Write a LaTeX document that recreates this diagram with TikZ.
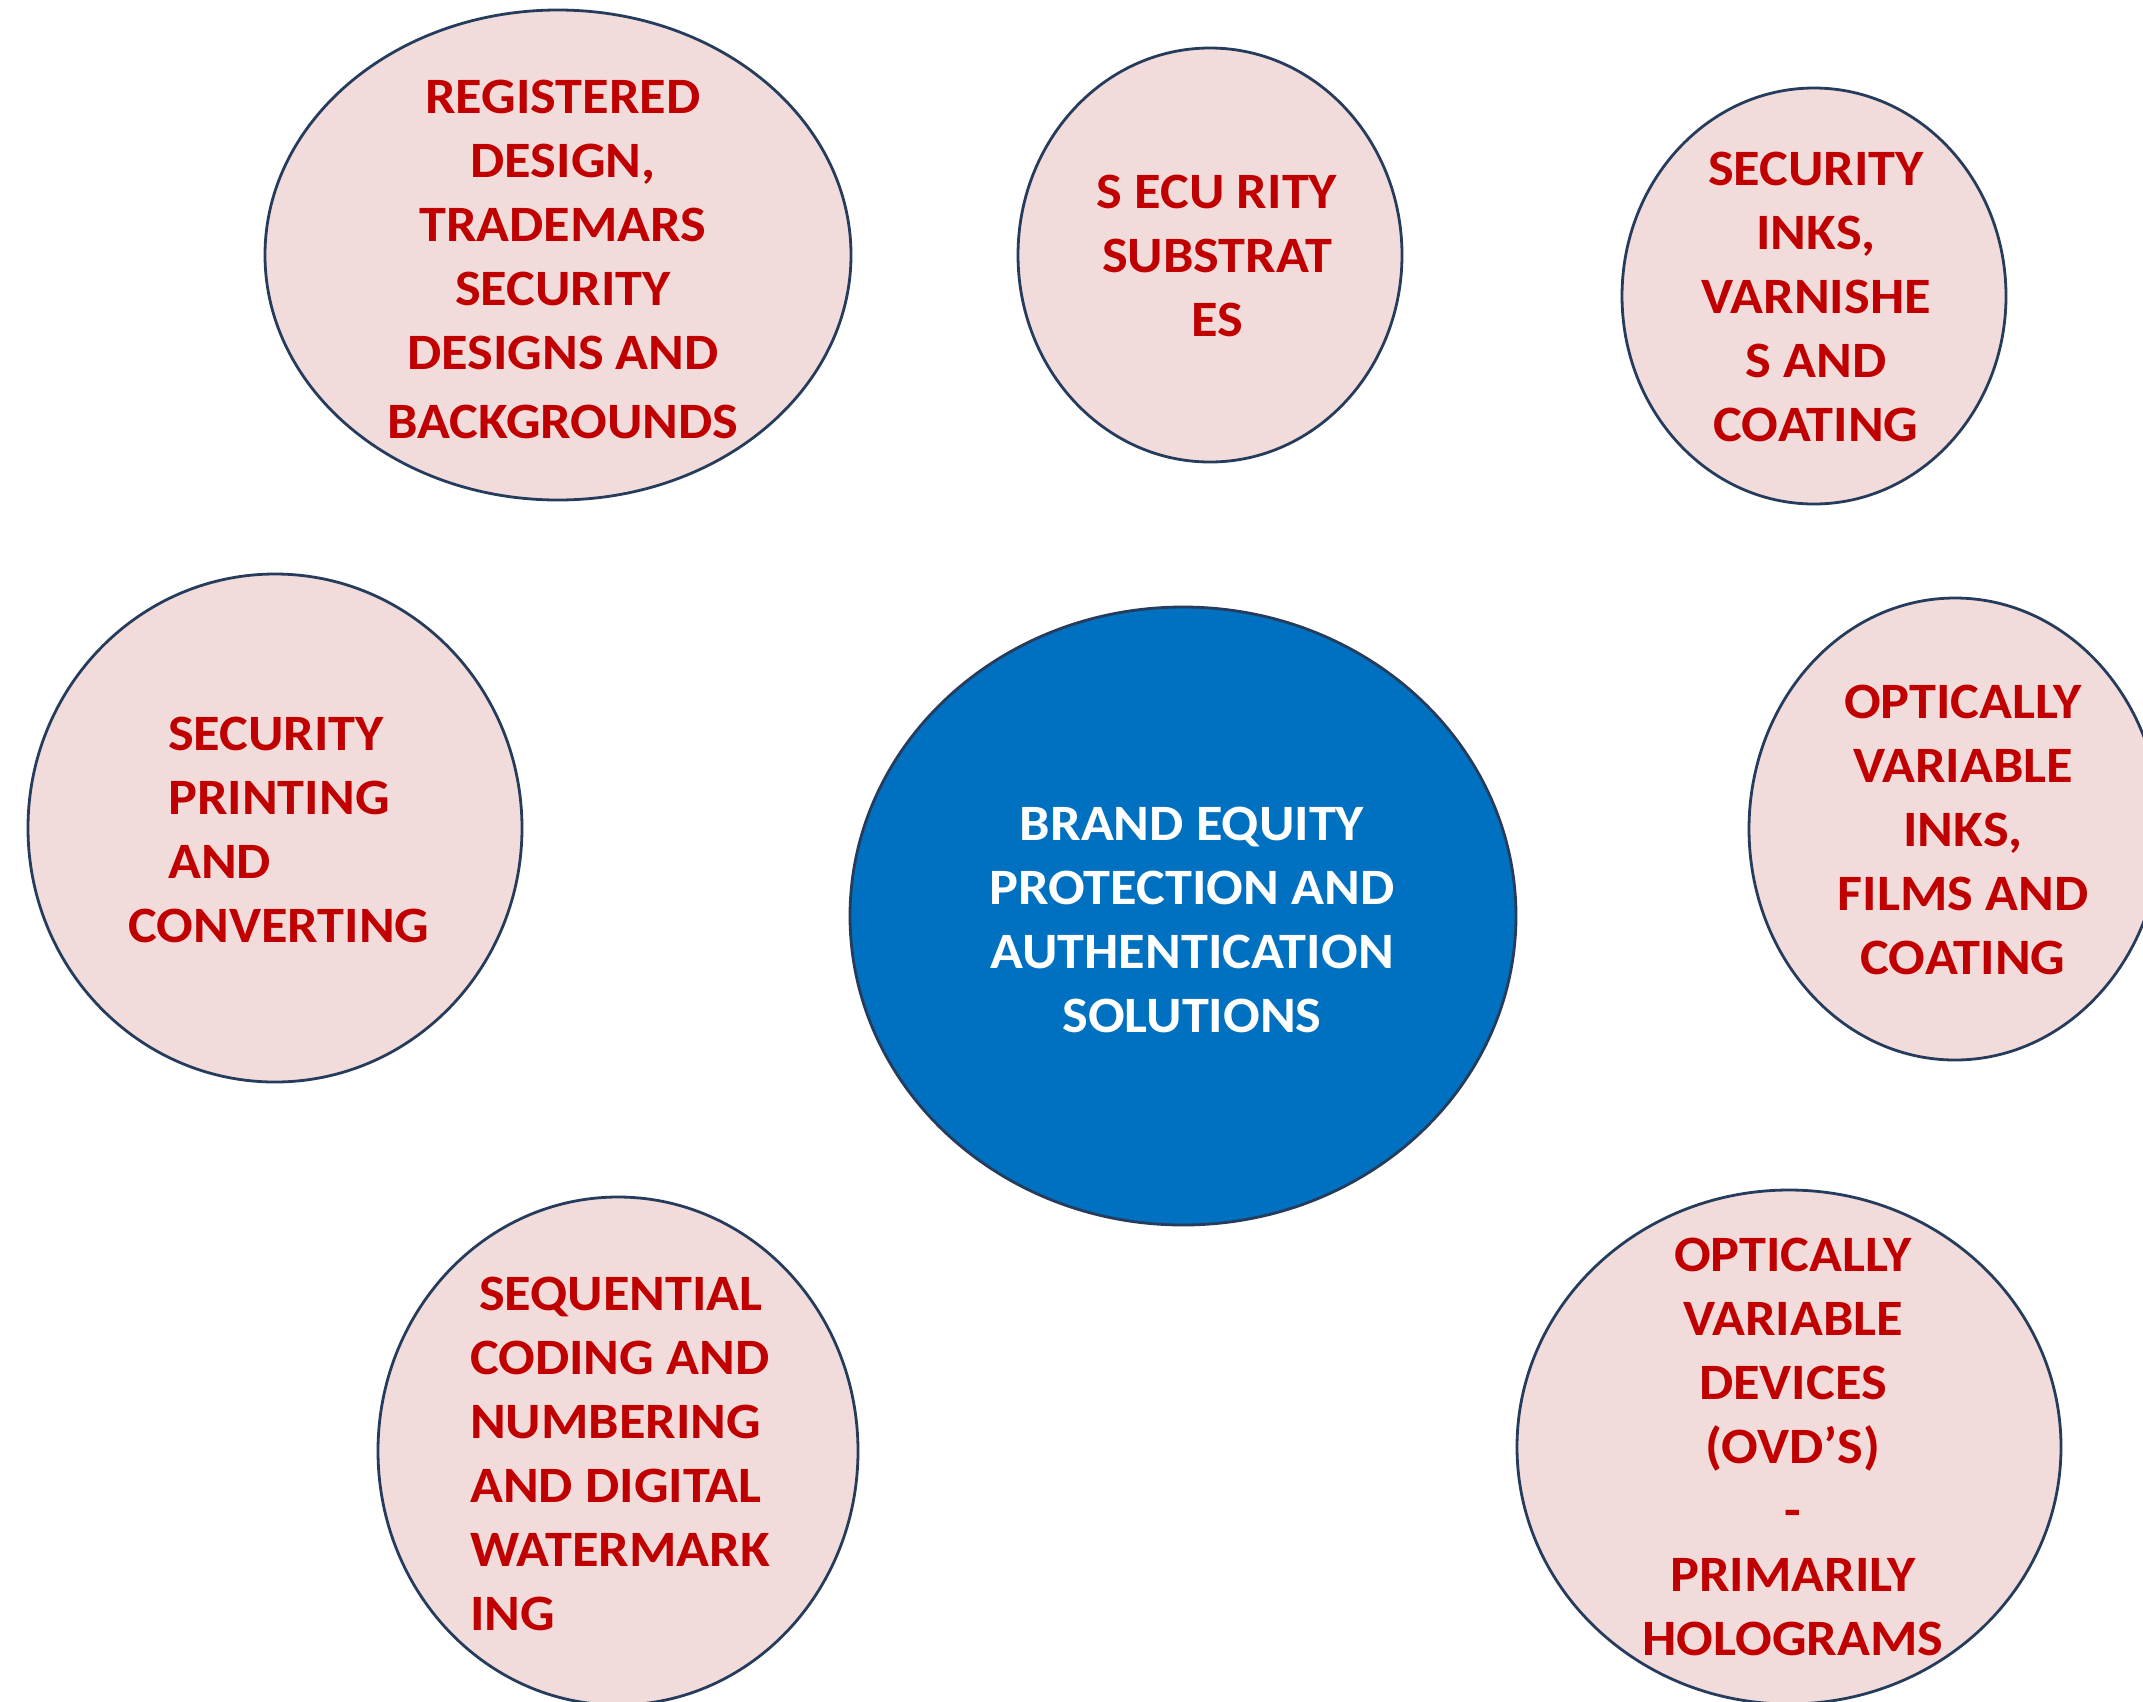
\documentclass[tikz,border=0pt]{standalone}
\usepackage{fontspec}
\setmainfont{Carlito}
\newfontfamily\lblfont{Carlito}[FakeStretch=1.065]
\usetikzlibrary{shapes.geometric}
\definecolor{pinkfill}{RGB}{242,220,219}
\definecolor{navyline}{RGB}{38,60,92}
\definecolor{redtext}{RGB}{192,0,0}
\definecolor{bluefill}{RGB}{0,112,192}
\begin{document}
\begin{tikzpicture}[x=1pt,y=-1pt,
  bubble/.style={ellipse, draw=navyline, line width=2.8pt, fill=pinkfill, inner sep=0pt, outer sep=0pt},
  hub/.style={ellipse, draw=navyline, line width=2.8pt, fill=bluefill, inner sep=0pt, outer sep=0pt},
  lbl/.style={font=\lblfont\fontsize{51}{64}\selectfont\bfseries, inner sep=0pt},
  redlabel/.style={lbl, text=redtext, align=center},
  redleft/.style={lbl, text=redtext, align=left, anchor=west},
  whitelabel/.style={lbl, text=white, align=center}]
\useasboundingbox (0,0) rectangle (2143,1701);
\clip (0,0) rectangle (2143,1701);
\fill[white] (0,0) rectangle (2143,1701);
% bubbles
\node[bubble, minimum width=586pt, minimum height=490pt] (e1) at (558,255) {};
\node[bubble, minimum width=384pt, minimum height=414pt] (e2) at (1210,255) {};
\node[bubble, minimum width=384pt, minimum height=416pt] (e3) at (1814,296) {};
\node[bubble, minimum width=494pt, minimum height=508pt] (e4) at (275,828) {};
\node[hub,    minimum width=666pt, minimum height=618pt] (hub) at (1183,916) {};
\node[bubble, minimum width=412pt, minimum height=462pt] (e5) at (1955,829) {};
\node[bubble, minimum width=480pt, minimum height=508pt] (e6) at (618,1451) {};
\node[bubble, minimum width=544pt, minimum height=514pt] (e7) at (1789,1447) {};
% labels
\node[redlabel] (t1) at (563,259) {REGISTERED\\ DESIGN,\\ TRADEMARS\\ SECURITY\\ DESIGNS AND\\[5pt] BACKGROUNDS};
\node[redlabel] (t2) at (1217,256) {S ECU RITY\\ SUBSTRAT\\ ES};
\node[redlabel] (t3) at (1816,297) {SECURITY\\ INKS,\\ VARNISHE\\ S AND\\ COATING};
\node[redleft] (t4) at (128,829.5) {\hspace*{40pt}SECURITY\\ \hspace*{40pt}PRINTING\\ \hspace*{40pt}AND\\ CONVERTING};
\node[whitelabel] (thub) at (1192,920) {BRAND EQUITY\\ PROTECTION AND\\ AUTHENTICATION\\ SOLUTIONS};
\node[redlabel] (t5) at (1963,830) {OPTICALLY\\ VARIABLE\\ INKS,\\ FILMS AND\\ COATING};
\node[redleft] (t6) at (470,1454) {\hspace*{9pt}SEQUENTIAL\\ CODING AND\\ NUMBERING\\ AND DIGITAL\\ WATERMARK\\ ING};
\node[redlabel] (t7) at (1793,1447) {OPTICALLY\\ VARIABLE\\ DEVICES\\ (OVD’S)\\ -\\ PRIMARILY\\ HOLOGRAMS};
\end{tikzpicture}
\end{document}
